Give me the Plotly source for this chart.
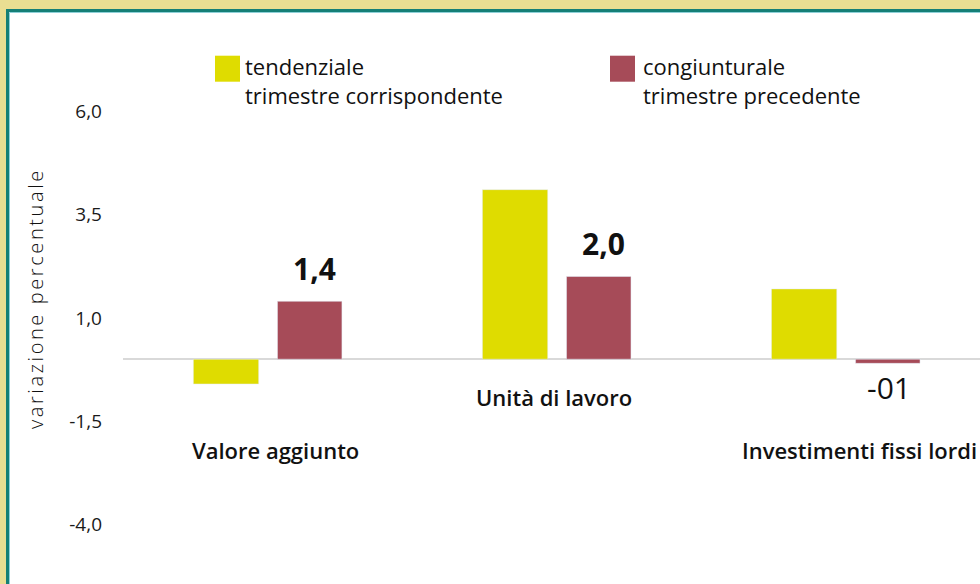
import plotly.graph_objects as go

# data
categories = ["Valore aggiunto", "Unità di lavoro", "Investimenti fissi lordi"]
tendenziale = [-0.6, 4.1, 1.7]
congiunturale = [1.4, 2.0, -0.1]
cong_labels = ["1,4", "2,0", "-01"]
tick_vals = [-4.0, -1.5, 1.0, 3.5, 6.0]
tick_text = ["-4,0", "-1,5", "1,0", "3,5", "6,0"]
legend_names = ["tendenziale<br>trimestre corrispondente", "congiunturale<br>trimestre precedente"]

YELLOW = "#dfdc00"
RED = "#a64b58"
FONT = "Open Sans"

W, H = 980, 584
ML, MR, MT, MB = 123, 0, 40, 0
PW, PH = W - ML - MR, H - MT - MB


def px(x):
    return (x - ML) / PW


def py(y):
    return (H - MB - y) / PH


fig = go.Figure()
fig.add_trace(go.Bar(x=categories, y=tendenziale, name="tendenziale",
                     marker_color=YELLOW, width=0.226, offset=-0.258))
fig.add_trace(go.Bar(x=categories, y=congiunturale, name="congiunturale",
                     marker_color=RED, width=0.223, offset=0.033))

ann = []
# value labels for congiunturale
for c, v, t in zip(categories, congiunturale, cong_labels):
    pos = v > 0
    ann.append(dict(x=c, y=v, xref="x", yref="y", text=t, showarrow=False,
                    xshift=47 if pos else 43, yshift=33 if pos else -24,
                    font=dict(family=FONT, size=30, color="#111111",
                              weight=700 if pos else 400)))

# category labels (staggered)
cat_pos = [(8, -2.2), (-3, -0.92), (13, -2.2)]
for c, (dx, yv) in zip(categories, cat_pos):
    ann.append(dict(x=c, y=yv, xref="x", yref="y", text=c, showarrow=False,
                    xshift=dx, font=dict(family=FONT, size=22, color="#111111", weight=600)))

# axis title
ann.append(dict(x=px(35), y=py(299), xref="paper", yref="paper",
                text="<span style='letter-spacing:2.6px'>variazione percentuale</span>",
                textangle=-90, showarrow=False, xanchor="center", yanchor="middle",
                font=dict(family=FONT, size=20, color="#111111", weight=300)))

shapes = [
    # panel frame
    dict(type="rect", xref="paper", yref="paper", x0=px(7.5), x1=px(1100), y0=py(700), y1=py(10.5),
         line=dict(color="#157f76", width=3), fillcolor="white", layer="below"),
    dict(type="rect", xref="paper", yref="paper", x0=px(9.5), x1=px(1100), y0=py(700), y1=py(12.5),
         line=dict(color="#8fd0d8", width=1), fillcolor="rgba(0,0,0,0)", layer="below"),
]

# legend drawn by hand (big square swatches)
for (sx, tx), col, name in zip([(215, 243), (610, 641)], [YELLOW, RED], legend_names):
    shapes.append(dict(type="rect", xref="paper", yref="paper", x0=px(sx), x1=px(sx + 25),
                       y0=py(81.7), y1=py(55.7), fillcolor=col, line=dict(width=0)))
    ann.append(dict(x=px(tx), y=py(49), xref="paper", yref="paper", text=name, showarrow=False,
                    xanchor="left", yanchor="top", align="left",
                    font=dict(family=FONT, size=22, color="#111111")))

fig.update_layout(
    width=W, height=H,
    margin=dict(l=ML, r=MR, t=MT, b=MB, autoexpand=False),
    paper_bgcolor="#e9de92",
    plot_bgcolor="rgba(0,0,0,0)",
    barmode="overlay",
    showlegend=False,
    annotations=ann,
    shapes=shapes,
    xaxis=dict(range=[-0.5014, -0.5014 + PW / 289.05], showticklabels=False, showgrid=False,
               zeroline=False, showline=False, fixedrange=True),
    yaxis=dict(range=[-(H - MB - 359.2) / 41.35, (359.2 - MT) / 41.35], tickvals=tick_vals,
               ticktext=tick_text, showgrid=False, zeroline=True, zerolinecolor="#d9d9d9",
               zerolinewidth=2, showline=False, ticks="", ticklabelstandoff=20,
               tickfont=dict(family=FONT, size=19, color="#1a1a1a", weight=400)),
)

fig.write_html("out.html", config={"displayModeBar": False},
               post_script="document.body.style.margin='0';document.body.style.overflow='hidden';")
